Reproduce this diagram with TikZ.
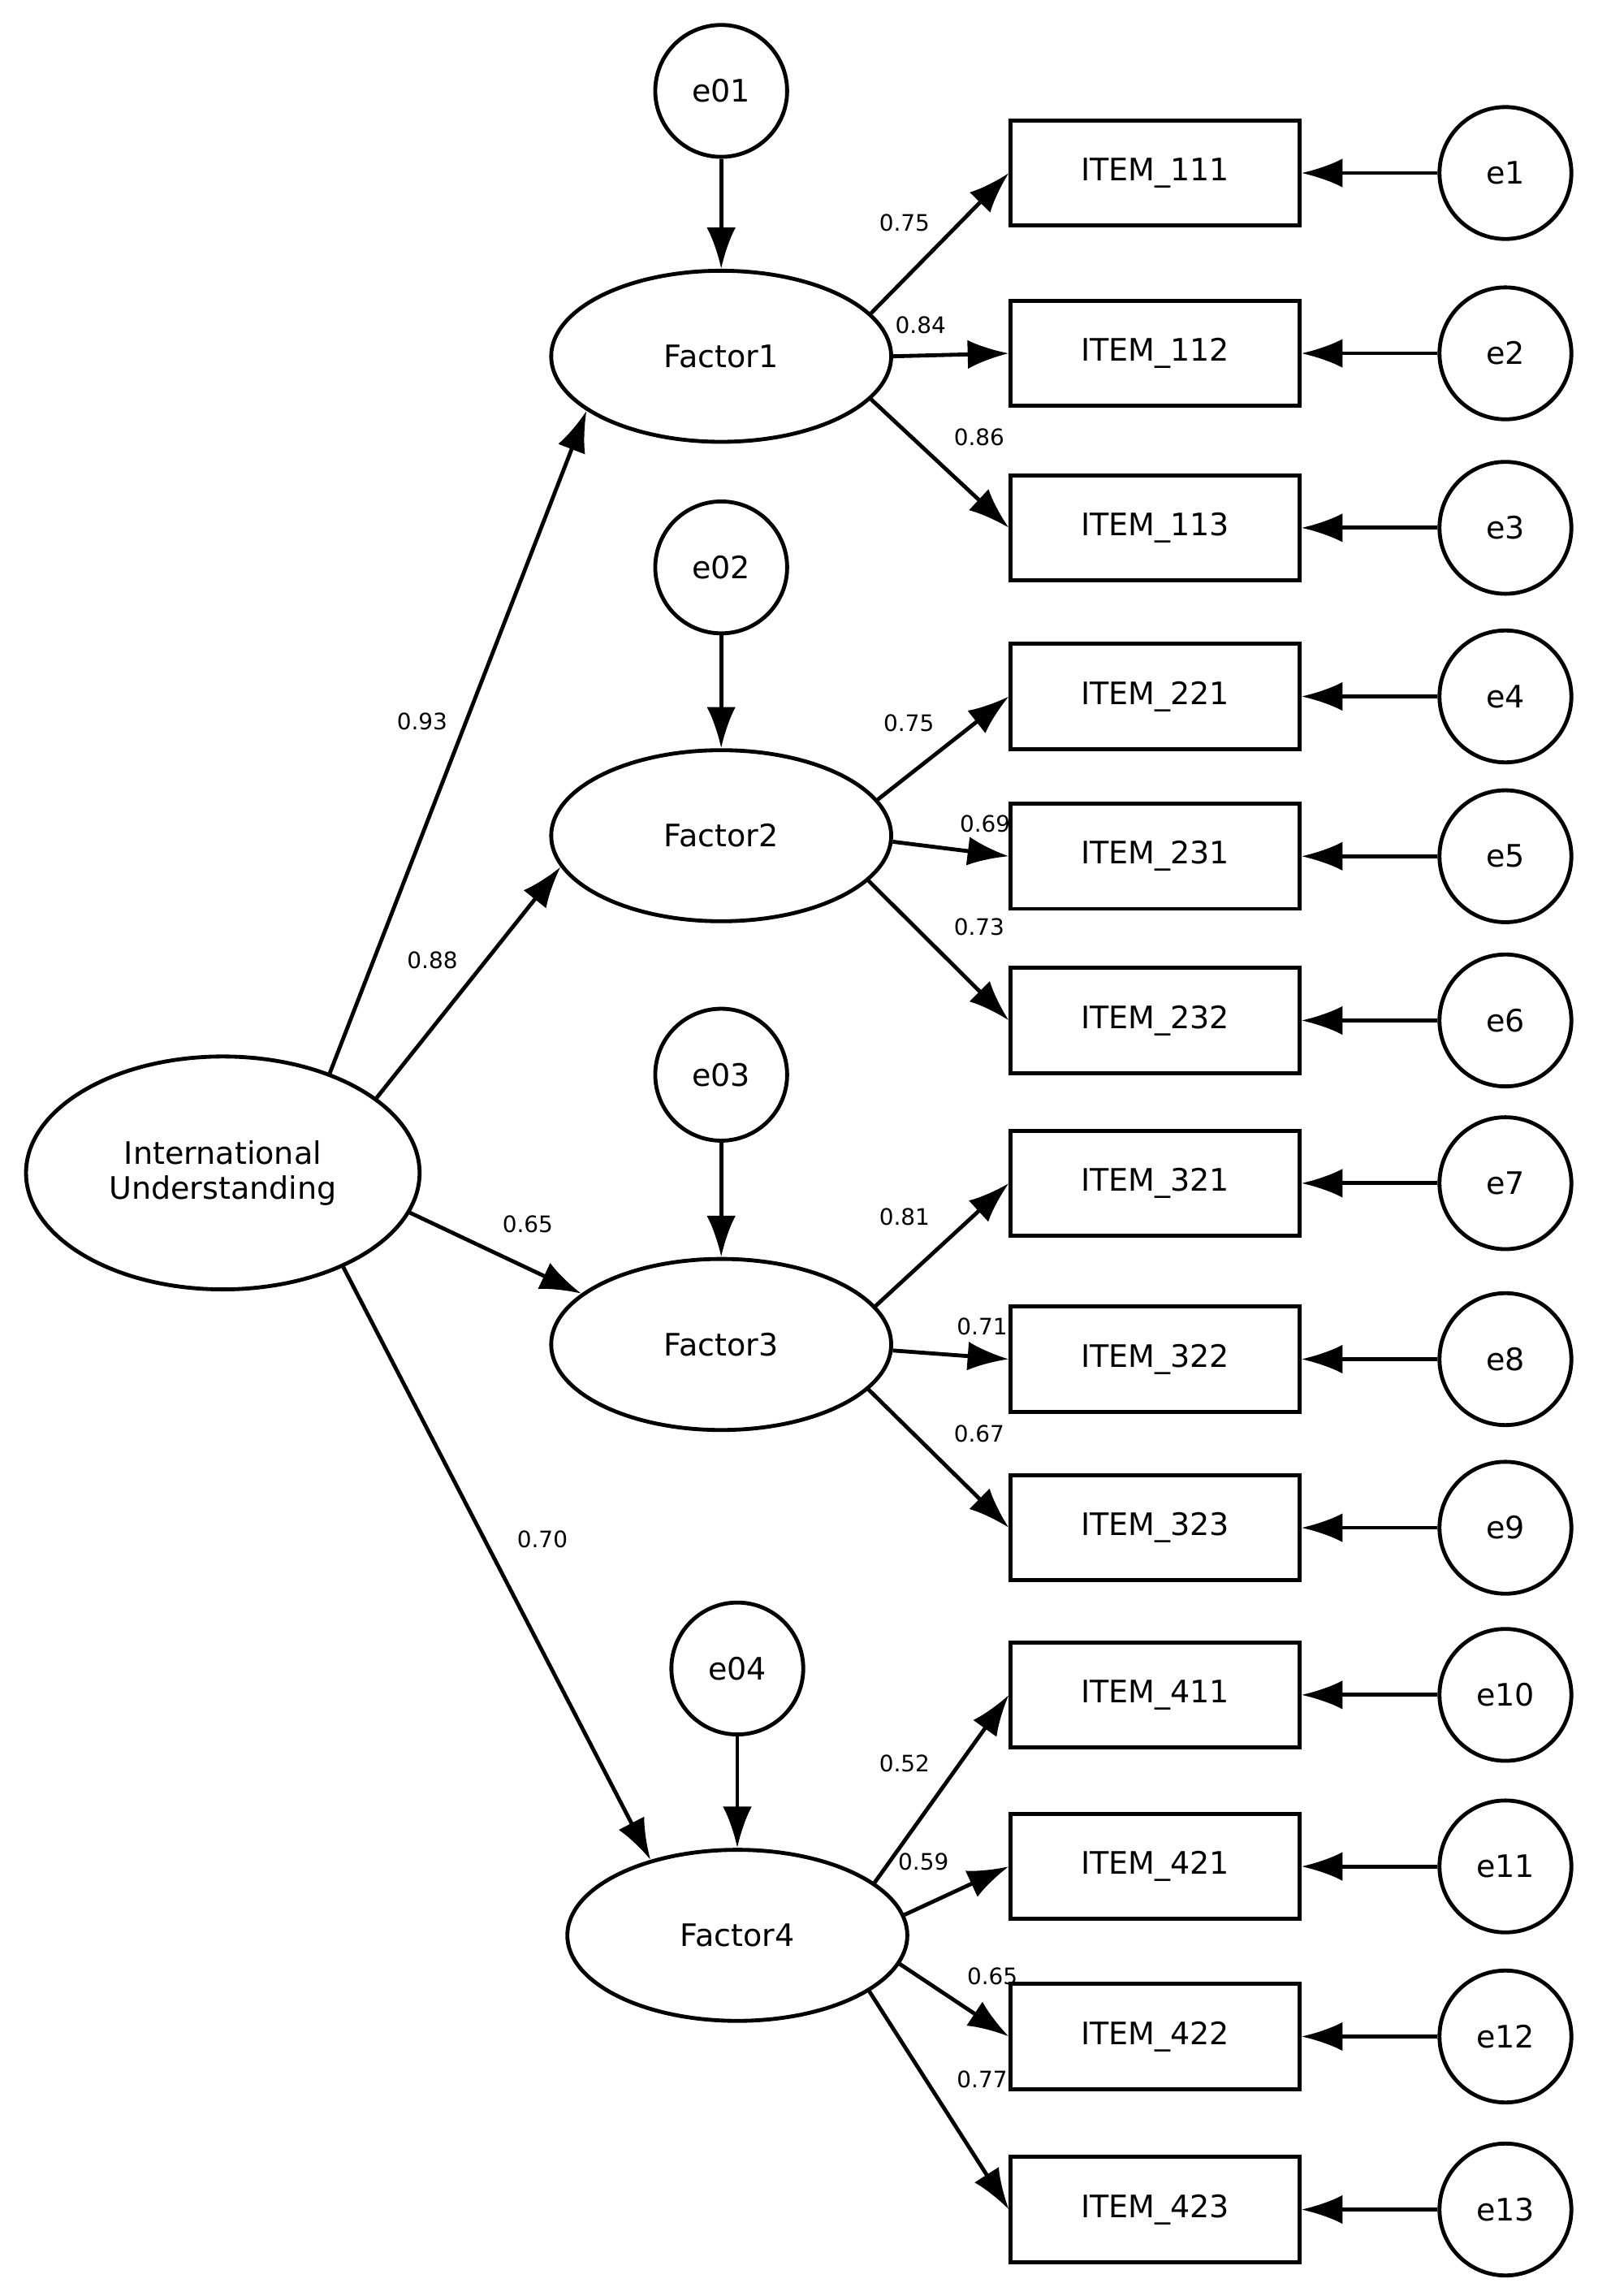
\documentclass[tikz,border=0pt]{standalone}
\usepackage{fontspec}
\setmainfont{DejaVu Sans}
\usetikzlibrary{arrows.meta,shapes.geometric}
\begin{document}
\begin{tikzpicture}[x=0.05cm,y=-0.05cm,line width=3.8pt,
  err/.style={draw,circle,minimum size=128pt,inner sep=0pt,font=\fontsize{30}{32}\selectfont},
  item/.style={draw,rectangle,minimum width=280pt,minimum height=102pt,inner sep=0pt,font=\fontsize{30}{32}\selectfont},
  coef/.style={font=\fontsize{22}{24}\selectfont,inner sep=0pt},
  arr/.style={-{Latex[length=40pt,width=28pt]}}]
\useasboundingbox (0,0) rectangle (1090,1566);
% latent factors
\node[draw,ellipse,minimum width=382pt,minimum height=226pt,inner sep=0pt,align=center,font=\fontsize{30}{34}\selectfont] (iu) at (152,800) {International\\Understanding};
\foreach \n/\x/\y in {1/492/243,2/492/570,3/492/917,4/503/1320}{
  \node[draw,ellipse,minimum width=330pt,minimum height=166pt,inner sep=0pt,font=\fontsize{30}{32}\selectfont] (f\n) at (\x,\y) {Factor\n};
}
\foreach \n/\x/\y in {1/492/62,2/492/387,3/492/733,4/503/1138}{
  \node[err] (d\n) at (\x,\y) {e0\n};
  \draw[arr] (d\n) -- (f\n);
}
% indicators
\foreach \n/\t/\y in {1/111/118,2/112/241,3/113/360,4/221/475,5/231/584,6/232/696,7/321/807,8/322/927,9/323/1042,10/411/1156,11/421/1273,12/422/1389,13/423/1507}{
  \node[item] (i\n) at (788,\y) {ITEM\_\t};
  \node[err] (e\n) at (1027,\y) {e\n};
  \draw[arr] (e\n) -- (i\n);
}
\foreach \f/\a/\i in {1/16/1,1/0/2,1/-16/3,2/13/4,2/-2/5,2/-17/6,3/14/7,3/-2/8,3/-17/9,4/21/10,4/7/11,4/-10/12,4/-23/13}{
  \draw[arr] (f\f.\a) -- (i\i.west);
}
\foreach \f/\a/\b in {1/43/202,2/26/191,3/-12/160,4/-38/139}{\draw[arr] (iu.\a) -- (f\f.\b);}
% coefficients
\foreach \v/\x/\y in {0.93/288/492,0.88/295/655,0.65/360/835,0.70/370/1050,
  0.75/617/152,0.84/628/222,0.86/668/298,0.75/620/493,0.69/672/562,0.73/668/632,
  0.81/617/830,0.71/670/905,0.67/668/978,0.52/617/1203,0.59/630/1270,0.65/677/1348,0.77/670/1418}{
  \node[coef] at (\x,\y) {\v};
}
\end{tikzpicture}
\end{document}
